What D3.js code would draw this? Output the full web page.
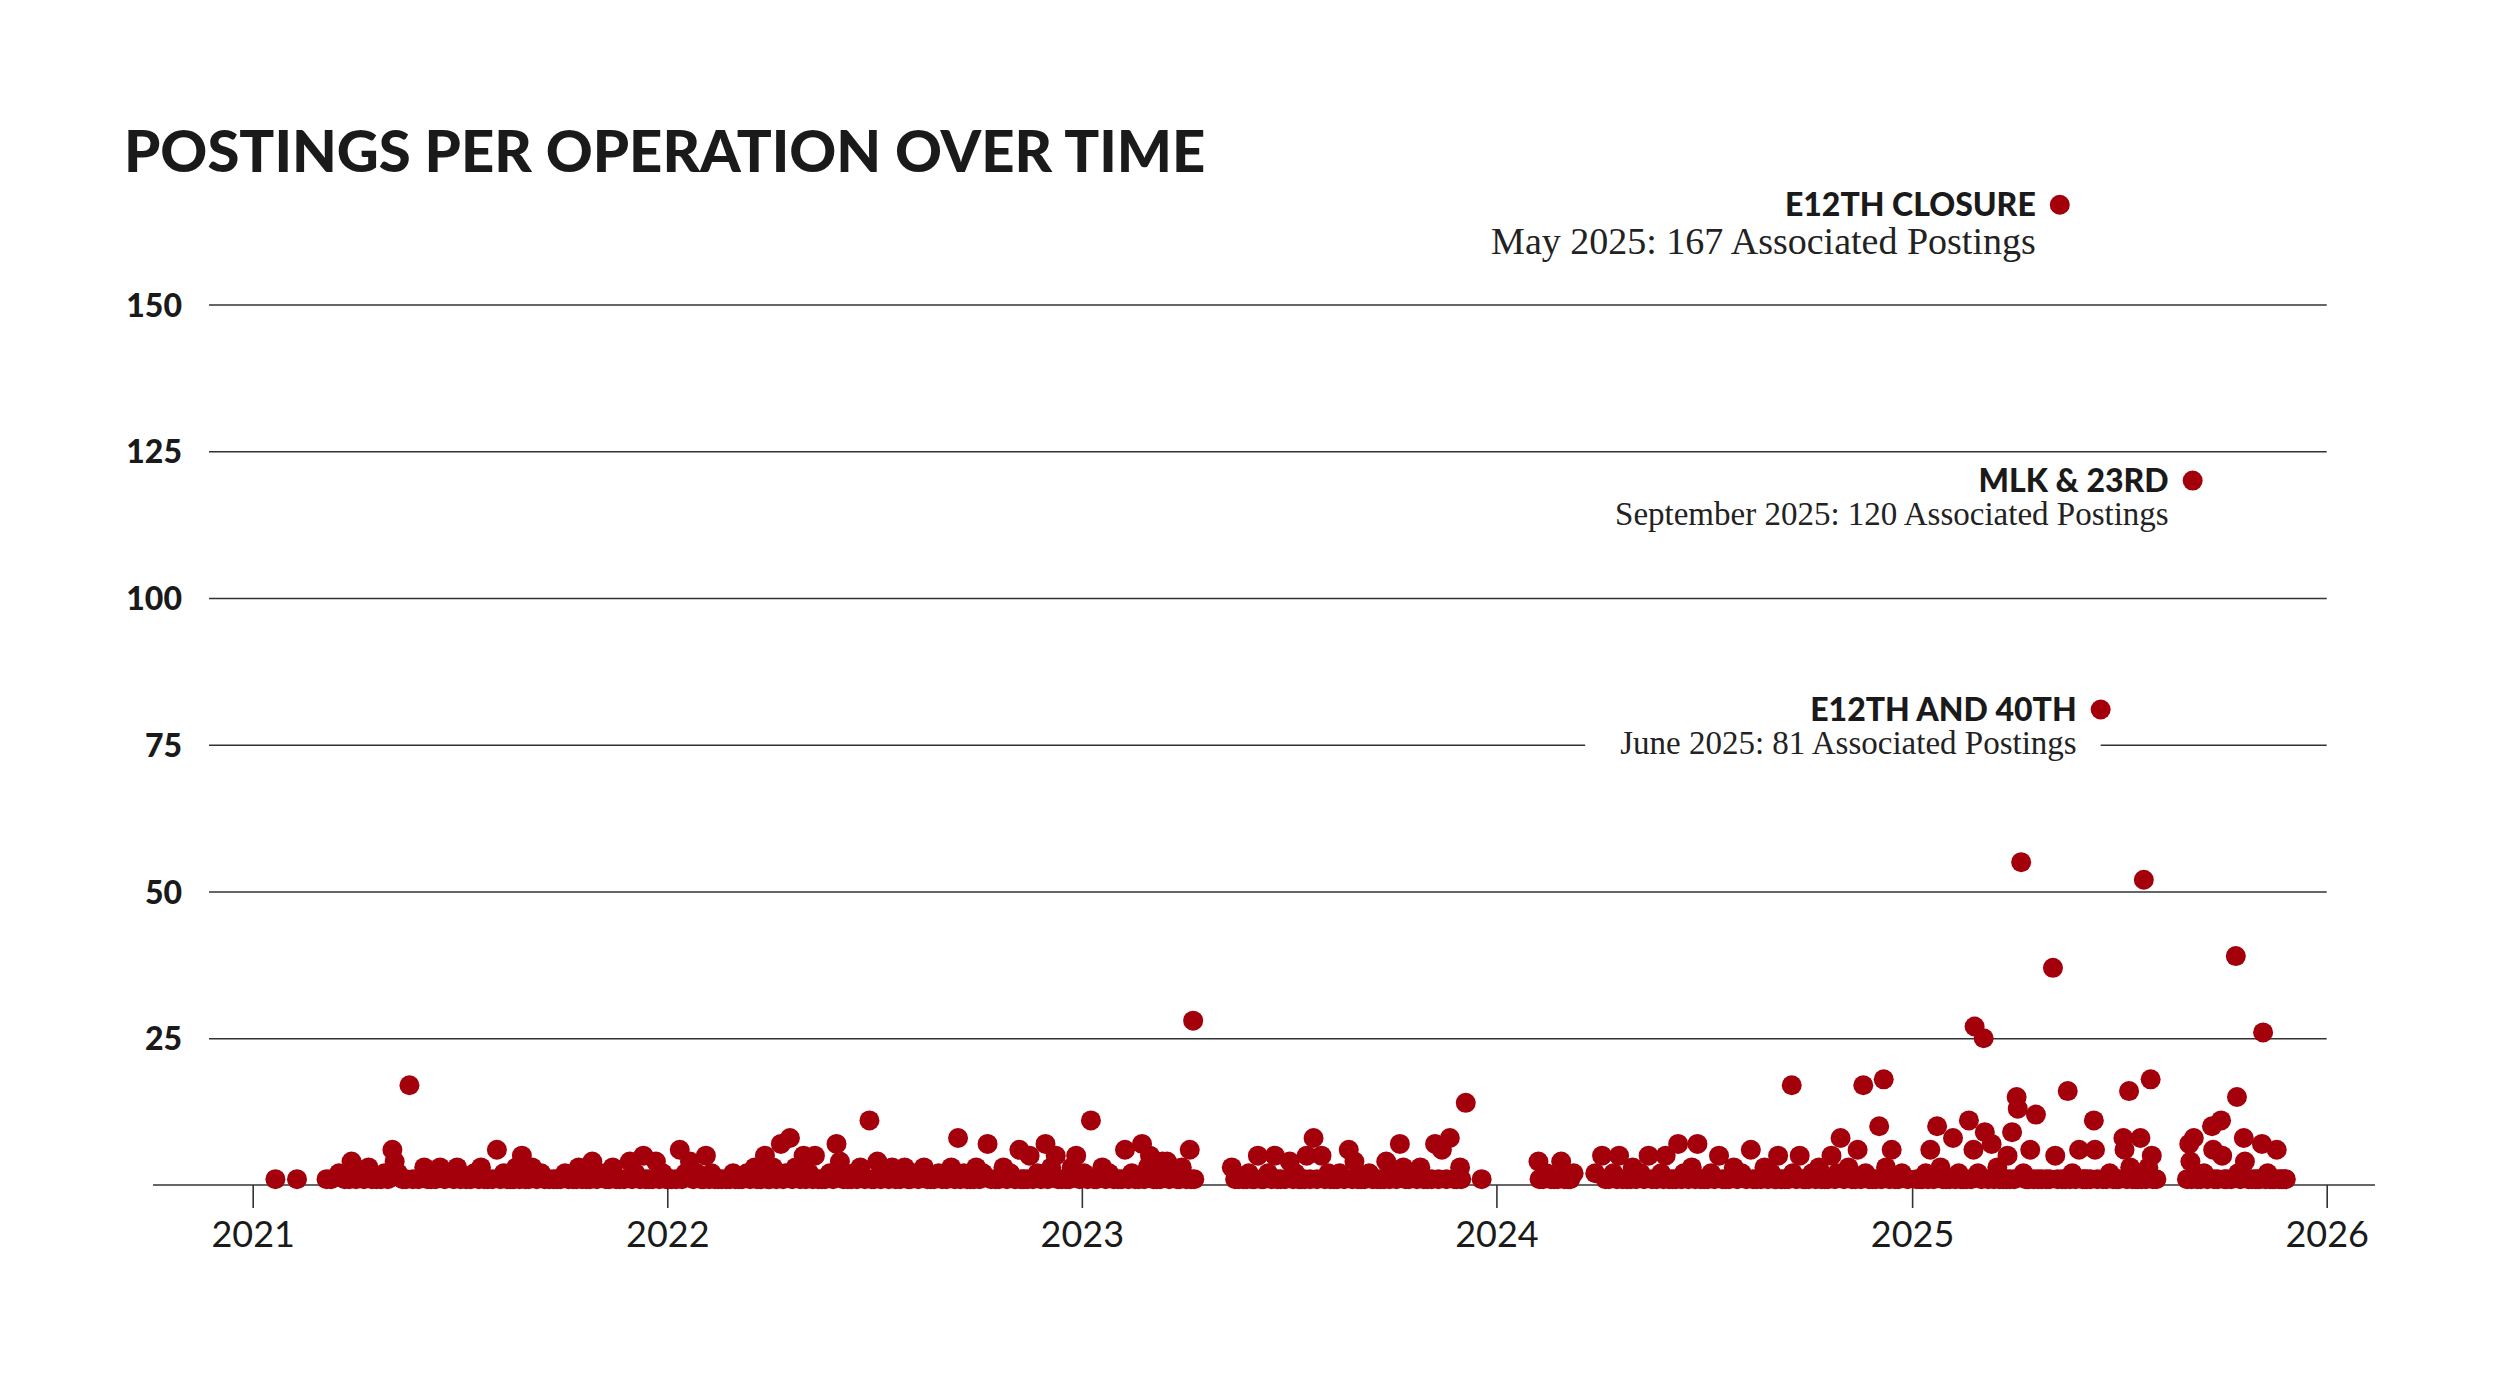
<!DOCTYPE html>
<html>
<head>
<meta charset="utf-8">
<script src="https://cdn.jsdelivr.net/npm/d3@7"></script>
<style>
  html, body { margin: 0; padding: 0; background: #fff; }
  svg { display: block; }
</style>
</head>
<body>
<div id="chart"></div>
<script>
// Postings per operation, one [date, postings] pair per operation, by year
const ops2021 = [
  ["2021-01-21",1],["2021-02-09",1],["2021-03-07",1],["2021-03-11",1],["2021-03-18",2],["2021-03-23",1],["2021-03-27",1],["2021-03-29",4],
  ["2021-04-02",1],["2021-04-06",2],["2021-04-09",1],["2021-04-13",3],["2021-04-16",1],["2021-04-20",1],["2021-04-24",1],["2021-04-27",2],["2021-04-30",1],
  ["2021-05-04",6],["2021-05-06",4],["2021-05-09",2],["2021-05-13",1],["2021-05-16",1],["2021-05-19",17],["2021-05-22",1],["2021-05-27",1],
  ["2021-06-01",3],["2021-06-04",1],["2021-06-07",1],["2021-06-11",1],["2021-06-15",3],["2021-06-19",1],["2021-06-23",2],["2021-06-27",1],["2021-06-30",3],
  ["2021-07-03",1],["2021-07-08",1],["2021-07-12",1],["2021-07-15",2],["2021-07-19",1],["2021-07-21",3],["2021-07-24",1],["2021-07-27",1],["2021-07-31",1],
  ["2021-08-04",6],["2021-08-07",1],["2021-08-10",2],["2021-08-13",1],["2021-08-16",1],["2021-08-19",1],["2021-08-21",3],["2021-08-24",1],["2021-08-26",5],["2021-08-29",1],
  ["2021-09-01",1],["2021-09-04",3],["2021-09-08",1],["2021-09-12",2],["2021-09-15",1],["2021-09-19",1],["2021-09-23",1],["2021-09-26",1],["2021-09-29",1],
  ["2021-10-03",2],["2021-10-06",1],["2021-10-10",1],["2021-10-13",1],["2021-10-15",3],["2021-10-18",1],["2021-10-22",1],["2021-10-25",1],["2021-10-27",4],["2021-10-31",1],
  ["2021-11-04",2],["2021-11-08",1],["2021-11-11",1],["2021-11-14",3],["2021-11-17",1],["2021-11-20",1],["2021-11-24",1],["2021-11-29",4],
  ["2021-12-01",1],["2021-12-04",2],["2021-12-08",1],["2021-12-11",5],["2021-12-13",1],["2021-12-16",1],["2021-12-19",1],["2021-12-22",4],["2021-12-25",1],["2021-12-28",2],["2021-12-31",1]
];
const ops2022 = [
  ["2022-01-02",1],["2022-01-05",1],["2022-01-09",1],["2022-01-12",6],["2022-01-14",1],["2022-01-17",2],["2022-01-21",4],["2022-01-24",1],["2022-01-27",2],["2022-01-31",1],
  ["2022-02-02",1],["2022-02-04",5],["2022-02-07",1],["2022-02-09",2],["2022-02-12",1],["2022-02-15",1],["2022-02-18",1],["2022-02-22",1],["2022-02-25",1],["2022-02-28",2],
  ["2022-03-02",1],["2022-03-05",1],["2022-03-08",1],["2022-03-12",2],["2022-03-15",1],["2022-03-19",3],["2022-03-21",1],["2022-03-24",1],["2022-03-28",5],["2022-03-31",1],
  ["2022-04-01",1],["2022-04-04",3],["2022-04-07",1],["2022-04-11",7],["2022-04-13",1],["2022-04-15",2],["2022-04-19",8],["2022-04-21",1],["2022-04-24",3],["2022-04-28",1],
  ["2022-05-01",5],["2022-05-03",1],["2022-05-06",2],["2022-05-09",1],["2022-05-11",5],["2022-05-14",1],["2022-05-17",1],["2022-05-20",1],["2022-05-24",2],["2022-05-27",1],["2022-05-30",7],
  ["2022-06-02",4],["2022-06-05",1],["2022-06-09",1],["2022-06-12",1],["2022-06-14",2],["2022-06-17",1],["2022-06-20",3],["2022-06-24",1],["2022-06-28",11],["2022-06-30",1],
  ["2022-07-02",1],["2022-07-05",4],["2022-07-08",1],["2022-07-12",2],["2022-07-15",1],["2022-07-18",3],["2022-07-21",1],["2022-07-25",1],["2022-07-29",3],
  ["2022-08-01",1],["2022-08-03",1],["2022-08-06",2],["2022-08-10",1],["2022-08-15",3],["2022-08-18",1],["2022-08-21",1],["2022-08-24",1],["2022-08-28",2],["2022-08-31",1],
  ["2022-09-04",1],["2022-09-08",3],["2022-09-11",1],["2022-09-14",8],["2022-09-16",1],["2022-09-19",2],["2022-09-22",1],["2022-09-25",1],["2022-09-28",1],["2022-09-30",3],
  ["2022-10-03",1],["2022-10-06",2],["2022-10-10",7],["2022-10-13",1],["2022-10-17",1],["2022-10-20",1],["2022-10-24",3],["2022-10-27",1],["2022-10-30",2],
  ["2022-11-03",1],["2022-11-07",6],["2022-11-09",1],["2022-11-11",1],["2022-11-14",1],["2022-11-16",5],["2022-11-19",1],["2022-11-23",2],["2022-11-26",1],["2022-11-30",7],
  ["2022-12-02",1],["2022-12-05",3],["2022-12-09",5],["2022-12-11",1],["2022-12-14",1],["2022-12-18",1],["2022-12-21",1],["2022-12-23",3],["2022-12-27",5],["2022-12-30",1]
];
const ops2023 = [
  ["2023-01-03",2],["2023-01-06",1],["2023-01-09",11],["2023-01-12",1],["2023-01-14",1],["2023-01-19",3],["2023-01-22",1],["2023-01-25",2],["2023-01-29",1],
  ["2023-02-02",1],["2023-02-05",1],["2023-02-08",6],["2023-02-11",1],["2023-02-14",2],["2023-02-17",1],["2023-02-20",1],["2023-02-23",7],["2023-02-25",1],["2023-02-28",3],
  ["2023-03-02",5],["2023-03-05",1],["2023-03-08",1],["2023-03-11",1],["2023-03-13",4],["2023-03-17",4],["2023-03-19",1],["2023-03-22",2],["2023-03-26",1],["2023-03-28",1],["2023-03-30",3],
  ["2023-04-03",1],["2023-04-06",6],["2023-04-07",1],["2023-04-09",28],["2023-04-10",1],
  ["2023-05-13",3],["2023-05-16",1],["2023-05-19",1],["2023-05-23",1],["2023-05-26",1],["2023-05-28",2],["2023-05-31",1],
  ["2023-06-02",1],["2023-06-05",5],["2023-06-08",1],["2023-06-10",1],["2023-06-14",2],["2023-06-17",1],["2023-06-20",5],["2023-06-22",1],["2023-06-25",1],["2023-06-29",1],
  ["2023-07-03",4],["2023-07-06",1],["2023-07-08",2],["2023-07-11",1],["2023-07-13",1],["2023-07-16",1],["2023-07-18",5],["2023-07-21",1],["2023-07-24",8],["2023-07-27",1],["2023-07-31",5],
  ["2023-08-03",1],["2023-08-06",2],["2023-08-08",1],["2023-08-11",1],["2023-08-14",1],["2023-08-16",2],["2023-08-20",1],["2023-08-24",6],["2023-08-27",1],["2023-08-29",4],
  ["2023-09-01",1],["2023-09-04",1],["2023-09-07",1],["2023-09-11",2],["2023-09-14",1],["2023-09-18",1],["2023-09-21",1],["2023-09-24",1],["2023-09-26",4],["2023-09-29",1],
  ["2023-10-01",2],["2023-10-05",1],["2023-10-08",7],["2023-10-11",3],["2023-10-13",1],["2023-10-16",1],["2023-10-20",2],["2023-10-23",1],["2023-10-26",3],["2023-10-29",1],
  ["2023-11-01",1],["2023-11-05",1],["2023-11-08",7],["2023-11-11",1],["2023-11-14",6],["2023-11-18",1],["2023-11-21",8],["2023-11-25",1],["2023-11-27",1],["2023-11-30",3],
  ["2023-12-01",1],["2023-12-05",14],["2023-12-19",1]
];
const ops2024 = [
  ["2024-02-07",4],["2024-02-08",1],["2024-02-11",1],["2024-02-14",2],["2024-02-18",1],["2024-02-21",1],["2024-02-24",1],["2024-02-27",4],
  ["2024-03-01",1],["2024-03-04",1],["2024-03-06",1],["2024-03-09",2],["2024-03-28",2],
  ["2024-04-03",5],["2024-04-06",1],["2024-04-09",1],["2024-04-13",2],["2024-04-16",1],["2024-04-18",5],["2024-04-21",1],["2024-04-25",1],["2024-04-28",1],["2024-04-30",3],
  ["2024-05-03",1],["2024-05-07",2],["2024-05-10",1],["2024-05-14",5],["2024-05-17",1],["2024-05-21",1],["2024-05-25",2],["2024-05-27",1],["2024-05-29",5],
  ["2024-06-01",1],["2024-06-04",1],["2024-06-07",1],["2024-06-09",7],["2024-06-12",1],["2024-06-14",2],["2024-06-18",1],["2024-06-21",3],["2024-06-24",1],["2024-06-26",7],["2024-06-29",1],
  ["2024-07-02",1],["2024-07-05",1],["2024-07-08",2],["2024-07-11",1],["2024-07-15",5],["2024-07-18",1],["2024-07-21",1],["2024-07-24",1],["2024-07-28",3],["2024-07-31",1],
  ["2024-08-04",2],["2024-08-08",1],["2024-08-12",6],["2024-08-14",1],["2024-08-17",1],["2024-08-21",1],["2024-08-24",3],["2024-08-27",1],["2024-08-30",2],
  ["2024-09-02",1],["2024-09-05",5],["2024-09-08",1],["2024-09-11",1],["2024-09-14",1],["2024-09-17",17],["2024-09-18",2],["2024-09-21",1],["2024-09-24",5],["2024-09-27",1],["2024-09-29",1],
  ["2024-10-02",1],["2024-10-05",2],["2024-10-08",1],["2024-10-11",3],["2024-10-13",1],["2024-10-16",1],["2024-10-19",1],["2024-10-22",5],["2024-10-25",1],["2024-10-27",2],["2024-10-30",8],
  ["2024-11-02",1],["2024-11-06",3],["2024-11-09",1],["2024-11-12",1],["2024-11-14",6],["2024-11-17",1],["2024-11-19",17],["2024-11-21",2],["2024-11-24",1],["2024-11-27",1],["2024-11-30",1],
  ["2024-12-03",10],["2024-12-05",1],["2024-12-07",18],["2024-12-09",3],["2024-12-12",1],["2024-12-14",6],["2024-12-17",1],["2024-12-20",1],["2024-12-23",2],["2024-12-28",1]
];
const ops2025 = [
  ["2025-01-05",1],["2025-01-08",1],["2025-01-10",1],["2025-01-13",2],["2025-01-15",1],["2025-01-17",6],["2025-01-20",1],["2025-01-23",10],["2025-01-26",3],["2025-01-28",1],["2025-01-31",1],
  ["2025-02-03",1],["2025-02-06",8],["2025-02-08",1],["2025-02-11",2],["2025-02-13",1],["2025-02-15",1],["2025-02-18",1],["2025-02-20",11],["2025-02-22",1],["2025-02-24",6],["2025-02-25",27],["2025-02-28",2],
  ["2025-03-03",1],["2025-03-05",25],["2025-03-06",9],["2025-03-09",1],["2025-03-12",7],["2025-03-14",1],["2025-03-17",3],["2025-03-19",1],["2025-03-22",1],["2025-03-25",1],["2025-03-26",5],["2025-03-28",1],["2025-03-30",9],
  ["2025-04-01",1],["2025-04-03",15],["2025-04-04",13],["2025-04-07",55],["2025-04-09",2],["2025-04-11",1],["2025-04-13",1],["2025-04-15",6],["2025-04-18",1],["2025-04-20",12],["2025-04-22",1],["2025-04-25",1],["2025-04-29",1],
  ["2025-05-02",1],["2025-05-05",37],["2025-05-07",5],["2025-05-09",1],["2025-05-11",167],["2025-05-13",1],["2025-05-16",1],["2025-05-18",16],["2025-05-20",1],["2025-05-22",2],["2025-05-25",1],["2025-05-28",6],["2025-05-31",1],
  ["2025-06-02",1],["2025-06-04",1],["2025-06-07",1],["2025-06-10",11],["2025-06-11",6],["2025-06-13",1],["2025-06-16",81],["2025-06-18",1],["2025-06-21",1],["2025-06-24",2],["2025-06-27",1],["2025-06-30",1],
  ["2025-07-02",1],["2025-07-06",8],["2025-07-07",6],["2025-07-09",1],["2025-07-11",16],["2025-07-12",3],["2025-07-14",1],["2025-07-17",1],["2025-07-19",1],["2025-07-21",8],["2025-07-22",1],["2025-07-24",52],["2025-07-26",1],
  ["2025-07-28",3],["2025-07-30",18],["2025-07-31",5],["2025-08-01",1],["2025-08-04",1],
  ["2025-08-31",1],["2025-09-02",7],["2025-09-03",4],["2025-09-04",1],["2025-09-05",120],["2025-09-06",8],["2025-09-09",1],["2025-09-12",1],["2025-09-15",2],["2025-09-18",1],
  ["2025-09-22",10],["2025-09-23",6],["2025-09-24",1],["2025-09-27",1],["2025-09-30",11],["2025-10-01",5],["2025-10-03",1],["2025-10-05",1],["2025-10-09",1],
  ["2025-10-13",39],["2025-10-14",15],["2025-10-15",2],["2025-10-17",1],["2025-10-20",8],["2025-10-21",4],["2025-10-24",1],["2025-10-27",1],["2025-10-30",1],
  ["2025-11-01",1],["2025-11-03",1],["2025-11-05",7],["2025-11-06",26],["2025-11-08",1],["2025-11-10",2],["2025-11-12",1],["2025-11-14",1],["2025-11-16",1],["2025-11-18",6],["2025-11-20",1],["2025-11-22",1],["2025-11-24",1],["2025-11-26",1]
];

// Labelled operations
const annotNames = ["E12TH CLOSURE", "MLK & 23RD", "E12TH AND 40TH"];
const annotDates = ["2025-05-11", "2025-09-05", "2025-06-16"];
const annotCounts = [167, 120, 81];
const annotNotes = [
  "May 2025: 167 Associated Postings",
  "September 2025: 120 Associated Postings",
  "June 2025: 81 Associated Postings"
];

const yTicks = [25, 50, 75, 100, 125, 150];
const yearTicks = ["2021-01-01", "2022-01-01", "2023-01-01", "2024-01-01", "2025-01-01", "2026-01-01"];

const title = "POSTINGS PER OPERATION OVER TIME";

// Config
const width = 2500;
const height = 1379;
const red = "#a3000b";
const ink = "#1a1a1a";
const sans = "Lato, 'Open Sans', sans-serif";
const serif = "'Liberation Serif', 'DejaVu Serif', serif";
const noteSizes = [38, 33, 33]; // the top note is set larger
const parse = d3.timeParse("%Y-%m-%d");

const points = [...ops2021, ...ops2022, ...ops2023, ...ops2024, ...ops2025]
  .map(([d, v]) => ({ date: parse(d), value: v }));

const x = d3.scaleTime()
  .domain([parse("2021-01-01"), parse("2026-01-01")])
  .range([252.7, 2326.7]);

const y = d3.scaleLinear()
  .domain([0, 150])
  .range([1185, 304.5]);

const svg = d3.select("#chart").append("svg")
  .attr("width", width)
  .attr("height", height)
  .attr("viewBox", [0, 0, width, height])
  .style("background", "#fff");

// Title
svg.append("text")
  .attr("x", 124)
  .attr("y", 172)
  .attr("font-family", sans)
  .attr("font-weight", 900)
  .attr("font-size", 58)
  .attr("fill", ink)
  .text(title);

// Gridlines + y labels
const yAxis = svg.append("g")
  .attr("transform", `translate(209,0)`)
  .call(d3.axisLeft(y)
    .tickValues(yTicks)
    .tickSize(-(x.range()[1] - 209))
    .tickPadding(27));

yAxis.select(".domain").remove();
yAxis.selectAll(".tick line")
  .attr("stroke", "#333")
  .attr("stroke-width", 1.6);
yAxis.selectAll(".tick text")
  .attr("font-family", sans)
  .attr("font-weight", 900)
  .attr("font-size", 32)
  .attr("fill", ink)
  .attr("dy", "0.36em");

// Baseline
svg.append("line")
  .attr("x1", 153)
  .attr("x2", 2375)
  .attr("y1", y(0))
  .attr("y2", y(0))
  .attr("stroke", "#333")
  .attr("stroke-width", 1.6);

// Year ticks
const xAxis = svg.append("g")
  .attr("transform", `translate(0,${y(0)})`)
  .call(d3.axisBottom(x)
    .tickValues(yearTicks.map(parse))
    .tickSize(23)
    .tickPadding(13)
    .tickFormat(d3.timeFormat("%Y")));

xAxis.select(".domain").remove();
xAxis.selectAll(".tick line")
  .attr("stroke", "#333")
  .attr("stroke-width", 1.6);
xAxis.selectAll(".tick text")
  .attr("font-family", sans)
  .attr("font-weight", 400)
  .attr("font-size", 36)
  .attr("fill", ink);

// Annotations (white box knocks out the gridline behind the note)
const gAnnot = svg.append("g");
annotNames.forEach((name, i) => {
  const cx = x(parse(annotDates[i]));
  const cy = y(annotCounts[i]);
  const g = gAnnot.append("g");
  const bg = g.append("rect").attr("fill", "#fff");

  g.append("text")
    .attr("x", cx - 24)
    .attr("y", cy + 11)
    .attr("text-anchor", "end")
    .attr("font-family", sans)
    .attr("font-weight", 900)
    .attr("font-size", 32)
    .attr("fill", ink)
    .text(name);

  const note = g.append("text")
    .attr("x", cx - 24)
    .attr("y", cy + 11 + noteSizes[i])
    .attr("text-anchor", "end")
    .attr("font-family", serif)
    .attr("font-size", noteSizes[i])
    .attr("fill", "#222")
    .text(annotNotes[i]);

  const b = note.node().getBBox();
  bg.attr("x", b.x - 35)
    .attr("y", b.y)
    .attr("width", cx - (b.x - 35))
    .attr("height", b.height);
});

// Dots
svg.append("g")
  .selectAll("circle")
  .data(points)
  .join("circle")
  .attr("cx", d => x(d.date))
  .attr("cy", d => y(d.value))
  .attr("r", 10)
  .attr("fill", red);
</script>
</body>
</html>
